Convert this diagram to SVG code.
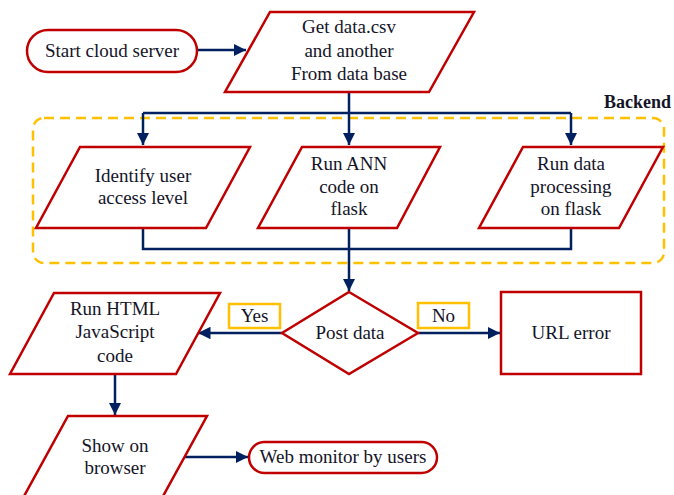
<svg xmlns="http://www.w3.org/2000/svg" width="674" height="495" viewBox="0 0 674 495">
<defs>
<marker id="ah" viewBox="0 0 10 10" refX="10" refY="5" markerWidth="5" markerHeight="5" orient="auto" markerUnits="strokeWidth">
<path d="M0,0 L10,5 L0,10 z" fill="#002060"/>
</marker>
<style>
.n{fill:#fff;stroke:#C00000;stroke-width:2.5}
.t{font-family:"Liberation Serif","Times New Roman",serif;font-size:19px;fill:#141428;text-anchor:middle}
.c{fill:none;stroke:#002060;stroke-width:2.5}
.a{marker-end:url(#ah)}
.lb{fill:#fff;stroke:#FFC000;stroke-width:2.5}
</style>
</defs>
<rect width="674" height="495" fill="#fff"/>
<rect x="33" y="118" width="631" height="145" rx="11" fill="none" stroke="#FFC000" stroke-width="2.5" stroke-dasharray="10,6"/>
<text x="604" y="108" style="font-family:'Liberation Serif','Times New Roman',serif;font-size:18px;font-weight:bold;fill:#141428">Backend</text>
<g id="connectors">
<path class="c a" d="M197,50 H246"/>
<path class="c" d="M349,92 V113 M143,113 H571"/>
<path class="c a" d="M143,113 V145"/>
<path class="c a" d="M349,113 V145"/>
<path class="c a" d="M571,113 V145"/>
<path class="c" d="M143,228 V249 H571 V228 M349,228 V249"/>
<path class="c a" d="M349,249 V291"/>
<path class="c a" d="M282,333 H198"/>
<path class="c a" d="M418,333 H500"/>
<path class="c a" d="M115,374 V415"/>
<path class="c a" d="M183,457 H248"/>
</g>
<g id="start">
<rect class="n" x="27" y="30" width="170" height="42" rx="21"/>
<text class="t" x="112" y="57">Start cloud server</text>
</g>
<g id="getdata">
<polygon class="n" points="270,12 474,12 429,92 225,92"/>
<text class="t" x="349" y="33">Get data.csv</text>
<text class="t" x="349" y="57">and another</text>
<text class="t" x="349" y="80">From data base</text>
</g>
<g id="identify">
<polygon class="n" points="80,147 250,147 206,228 36,228"/>
<text class="t" x="143" y="182">Identify user</text>
<text class="t" x="143" y="204">access level</text>
</g>
<g id="ann">
<polygon class="n" points="302,147 440,147 397,228 258,228"/>
<text class="t" x="349" y="170">Run ANN</text>
<text class="t" x="349" y="193">code on</text>
<text class="t" x="349" y="215">flask</text>
</g>
<g id="processing">
<polygon class="n" points="523,147 663,147 619,228 479,228"/>
<text class="t" x="571" y="170">Run data</text>
<text class="t" x="571" y="193">processing</text>
<text class="t" x="571" y="215">on flask</text>
</g>
<g id="post">
<polygon class="n" points="349,292 418,333 349,374 282,333"/>
<text class="t" x="350" y="339">Post data</text>
</g>
<g id="yes">
<rect class="lb" x="229" y="304" width="51" height="24"/>
<text class="t" x="254.5" y="322">Yes</text>
</g>
<g id="no">
<rect class="lb" x="418" y="303" width="51" height="25"/>
<text class="t" x="443.5" y="322">No</text>
</g>
<g id="urlerror">
<rect class="n" x="501" y="292" width="140" height="82"/>
<text class="t" x="571" y="339">URL error</text>
</g>
<g id="html">
<polygon class="n" points="54,293 220,293 176,374 10,374"/>
<text class="t" x="115" y="315">Run HTML</text>
<text class="t" x="115" y="338">JavaScript</text>
<text class="t" x="115" y="362">code</text>
</g>
<g id="browser">
<polygon class="n" points="68,416 207,416 162,498 23,498"/>
<text class="t" x="115" y="452">Show on</text>
<text class="t" x="115" y="474">browser</text>
</g>
<g id="monitor">
<rect class="n" x="249" y="442" width="188" height="31" rx="15.5"/>
<text class="t" x="343" y="463">Web monitor by users</text>
</g>
</svg>
